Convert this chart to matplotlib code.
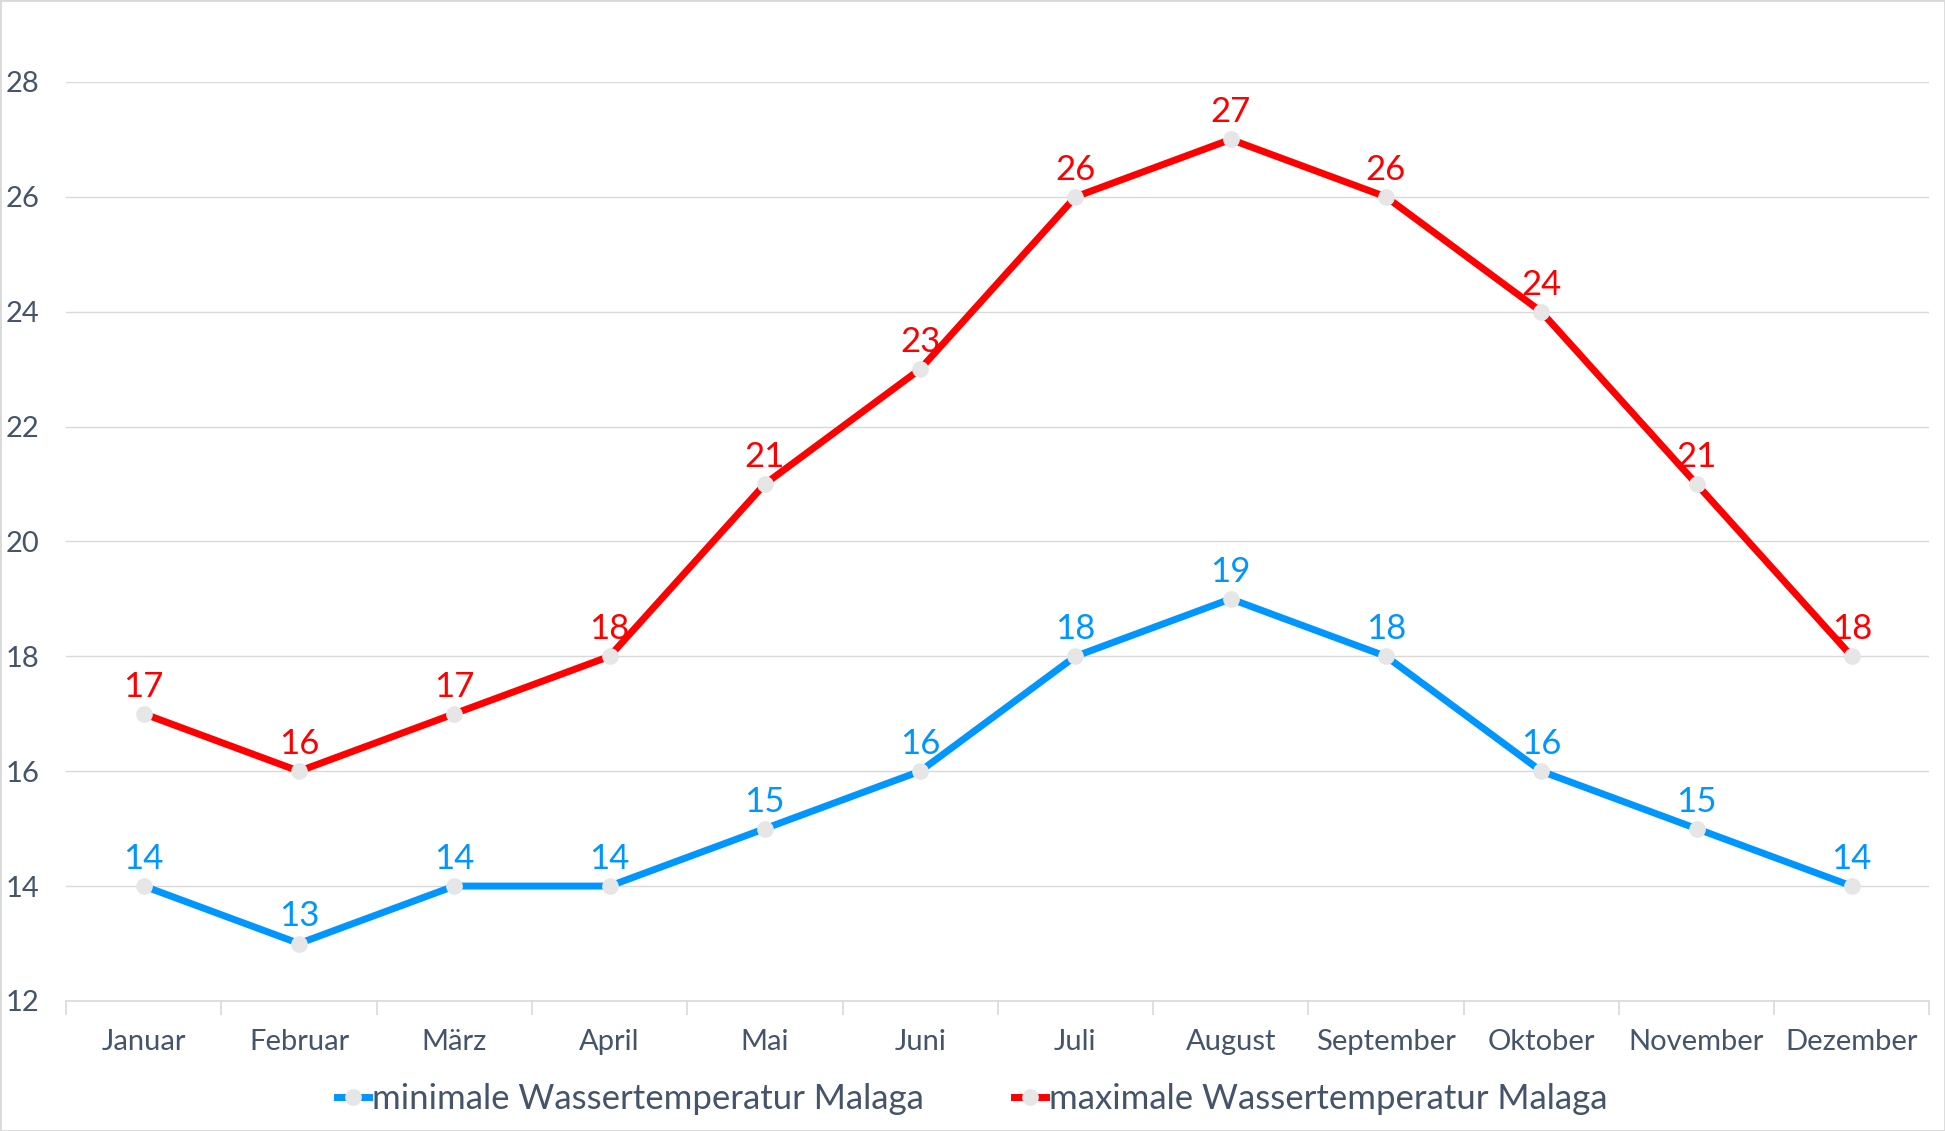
import matplotlib.pyplot as plt
from matplotlib.patches import Rectangle

plt.rcParams['font.family'] = ['Lato', 'DejaVu Sans']

months = ["Januar", "Februar", "März", "April", "Mai", "Juni", "Juli",
          "August", "September", "Oktober", "November", "Dezember"]
minTemp = [14, 13, 14, 14, 15, 16, 18, 19, 18, 16, 15, 14]
maxTemp = [17, 16, 17, 18, 21, 23, 26, 27, 26, 24, 21, 18]
yTicks = [12, 14, 16, 18, 20, 22, 24, 26, 28]

blue = "#0096FF"
red = "#FF0000"
markerColor = "#E6E6E6"
textColor = "#44546A"
gridColor = "#D9D9D9"

fig = plt.figure(figsize=(19.45, 11.31), dpi=100)
ax = fig.add_axes([0.034, 0.115, 0.958, 0.8125])

x = list(range(len(months)))
ax.plot(x, minTemp, color=blue, lw=5, marker="o", ms=11,
        mfc=markerColor, mec=markerColor, label="minimale Wassertemperatur Malaga", zorder=3)
ax.plot(x, maxTemp, color=red, lw=5, marker="o", ms=11,
        mfc=markerColor, mec=markerColor, label="maximale Wassertemperatur Malaga", zorder=3)

# data labels above each point
for xi, v in zip(x, minTemp):
    ax.annotate(str(v), (xi, v), xytext=(0, 8), textcoords="offset points",
                ha="center", va="bottom", color=blue, fontsize=25)
for xi, v in zip(x, maxTemp):
    ax.annotate(str(v), (xi, v), xytext=(0, 8), textcoords="offset points",
                ha="center", va="bottom", color=red, fontsize=25)

ax.set_xlim(-0.5, len(months) - 0.5)
ax.set_ylim(12, 28)
ax.set_yticks(yTicks)
ax.set_xticks(x)
ax.set_xticklabels(months)
ax.set_xticks([i - 0.5 for i in range(len(months) + 1)], minor=True)

ax.grid(axis="y", color=gridColor, lw=1)
ax.set_axisbelow(True)
for side in ["top", "right", "left"]:
    ax.spines[side].set_visible(False)
ax.spines["bottom"].set_color(gridColor)
ax.spines["bottom"].set_linewidth(1.2)

ax.tick_params(axis="y", length=0, labelsize=21, labelcolor=textColor, pad=19)
ax.tick_params(axis="x", which="major", length=0, labelsize=21,
               labelcolor=textColor, pad=20)
ax.tick_params(axis="x", which="minor", length=10, color=gridColor, width=1.2)

leg = fig.legend(loc="center", bbox_to_anchor=(0.5, 0.028), ncol=2, frameon=False,
                 fontsize=25, handlelength=0.9, handletextpad=0.1, columnspacing=2.6,
                 labelcolor=textColor)

# light frame around the whole picture
fig.patches.append(Rectangle((0, 0), 1, 1, transform=fig.transFigure, fill=False,
                             edgecolor=gridColor, lw=2))

fig.savefig("out.png", dpi=100)
